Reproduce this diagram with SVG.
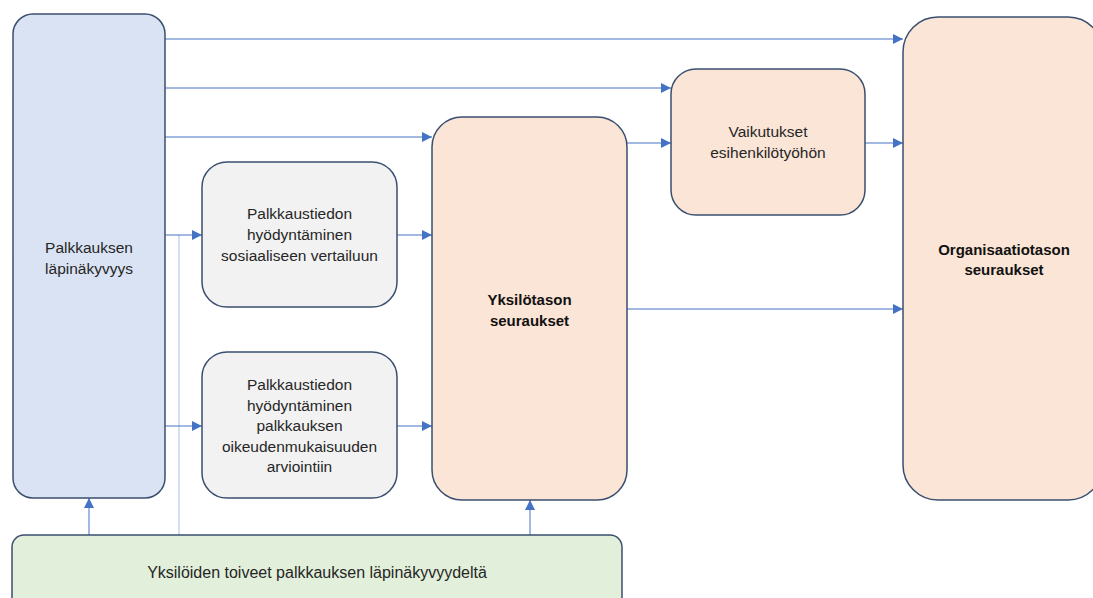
<svg xmlns="http://www.w3.org/2000/svg" width="1093" height="598" viewBox="0 0 1093 598">
  <style>
    .box { stroke: #3A4F6F; stroke-width: 1.5; }
    .blue { fill: #DAE3F3; }
    .grey { fill: #F2F2F2; }
    .peach { fill: #FBE5D6; }
    .green { fill: #E2EFDA; }
    .lbl { font-family: "Liberation Sans", Arial, sans-serif; font-size: 15.5px; fill: #262626; text-anchor: middle; }
    .bold { font-weight: bold; font-size: 15px; fill: #111; }
    .big { font-size: 16px; }
    .conn { stroke: #4472C4; stroke-width: 1; fill: none; }
    .faint { stroke: #A8BFE6; stroke-width: 1; fill: none; }
  </style>
  <defs>
    <marker id="arrow" viewBox="0 0 10 10" refX="10" refY="5" markerWidth="10" markerHeight="10" markerUnits="userSpaceOnUse" orient="auto">
      <path d="M0,0 L10,5 L0,10 z" fill="#4472C4"/>
    </marker>
  </defs>
  <rect width="1093" height="598" fill="#FFFFFF"/>

  <g id="connectors">
    <line class="conn" x1="165" y1="39" x2="903" y2="39" marker-end="url(#arrow)"/>
    <line class="conn" x1="165" y1="88" x2="671" y2="88" marker-end="url(#arrow)"/>
    <line class="conn" x1="165" y1="137" x2="432" y2="137" marker-end="url(#arrow)"/>
    <line class="faint" x1="179" y1="235" x2="179" y2="535"/>
    <line class="conn" x1="165" y1="235" x2="202" y2="235" marker-end="url(#arrow)"/>
    <line class="conn" x1="165" y1="426" x2="202" y2="426" marker-end="url(#arrow)"/>
    <line class="conn" x1="397" y1="235" x2="432" y2="235" marker-end="url(#arrow)"/>
    <line class="conn" x1="397" y1="426" x2="432" y2="426" marker-end="url(#arrow)"/>
    <line class="conn" x1="627" y1="143" x2="671" y2="143" marker-end="url(#arrow)"/>
    <line class="conn" x1="865" y1="143" x2="903" y2="143" marker-end="url(#arrow)"/>
    <line class="conn" x1="627" y1="309" x2="903" y2="309" marker-end="url(#arrow)"/>
    <line class="conn" x1="89" y1="535" x2="89" y2="498" marker-end="url(#arrow)"/>
    <line class="conn" x1="530" y1="535" x2="530" y2="500" marker-end="url(#arrow)"/>
  </g>

  <g id="palkkauksen-lapinakyvyys">
    <rect class="box blue" x="13" y="14" width="152" height="484" rx="20"/>
    <text class="lbl" x="89" y="253">Palkkauksen</text>
    <text class="lbl" x="89" y="274">läpinäkyvyys</text>
  </g>

  <g id="sosiaalinen-vertailu">
    <rect class="box grey" x="202" y="162" width="195" height="145" rx="25"/>
    <text class="lbl" x="299.5" y="219">Palkkaustiedon</text>
    <text class="lbl" x="299.5" y="240">hyödyntäminen</text>
    <text class="lbl" x="299.5" y="261">sosiaaliseen vertailuun</text>
  </g>

  <g id="oikeudenmukaisuus">
    <rect class="box grey" x="202" y="352" width="195" height="146" rx="25"/>
    <text class="lbl" x="299.5" y="390">Palkkaustiedon</text>
    <text class="lbl" x="299.5" y="410.5">hyödyntäminen</text>
    <text class="lbl" x="299.5" y="431">palkkauksen</text>
    <text class="lbl" x="299.5" y="451.5">oikeudenmukaisuuden</text>
    <text class="lbl" x="299.5" y="472">arviointiin</text>
  </g>

  <g id="yksilotason-seuraukset">
    <rect class="box peach" x="432" y="117" width="195" height="383" rx="30"/>
    <text class="lbl bold" x="529.5" y="305">Yksilötason</text>
    <text class="lbl bold" x="529.5" y="326">seuraukset</text>
  </g>

  <g id="esihenkilotyo">
    <rect class="box peach" x="671" y="69" width="194" height="146" rx="25"/>
    <text class="lbl" x="768" y="137">Vaikutukset</text>
    <text class="lbl" x="768" y="158">esihenkilötyöhön</text>
  </g>

  <g id="organisaatiotason-seuraukset">
    <rect class="box peach" x="903" y="17" width="200" height="483" rx="35"/>
    <text class="lbl bold" x="1004" y="255">Organisaatiotason</text>
    <text class="lbl bold" x="1004" y="275">seuraukset</text>
  </g>

  <g id="yksiloiden-toiveet">
    <rect class="box green" x="12" y="535" width="610" height="80" rx="12"/>
    <text class="lbl big" x="317" y="578">Yksilöiden toiveet palkkauksen läpinäkyvyydeltä</text>
  </g>
</svg>
